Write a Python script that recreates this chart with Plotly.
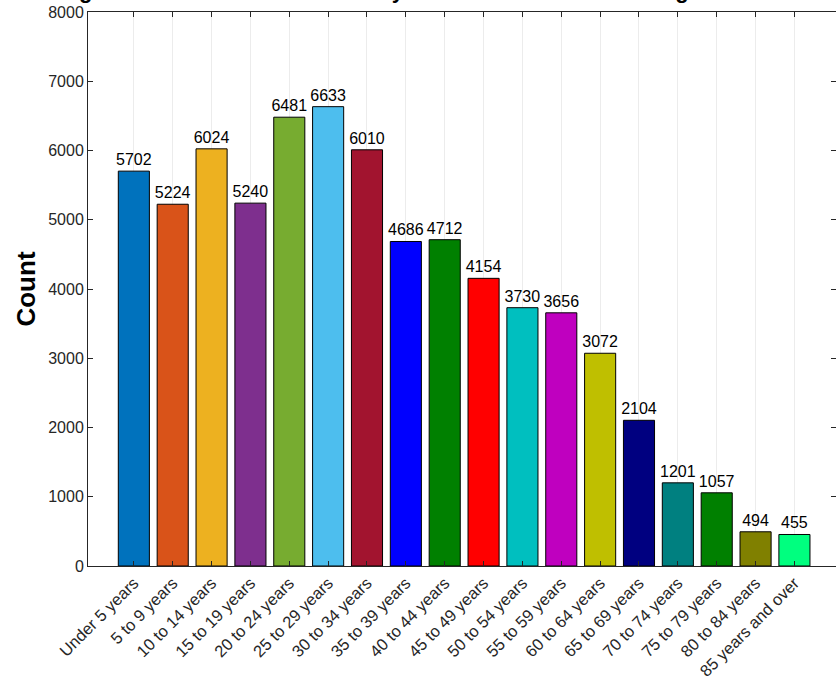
import plotly.graph_objects as go

categories = ["Under 5 years", "5 to 9 years", "10 to 14 years", "15 to 19 years",
              "20 to 24 years", "25 to 29 years", "30 to 34 years", "35 to 39 years",
              "40 to 44 years", "45 to 49 years", "50 to 54 years", "55 to 59 years",
              "60 to 64 years", "65 to 69 years", "70 to 74 years", "75 to 79 years",
              "80 to 84 years", "85 years and over"]
counts = [5702, 5224, 6024, 5240, 6481, 6633, 6010, 4686, 4712, 4154,
          3730, 3656, 3072, 2104, 1201, 1057, 494, 455]
bar_colors = ["#0072BD", "#D95319", "#EDB120", "#7E2F8E", "#77AC30", "#4DBEEE",
              "#A2142F", "#0000FF", "#008000", "#FF0000", "#00BFBF", "#BF00BF",
              "#BFBF00", "#000080", "#008080", "#008000", "#808000", "#00FF7F"]
y_ticks = [0, 1000, 2000, 3000, 4000, 5000, 6000, 7000, 8000]
title_text = "Age Distribution of Residents by the Total Count in Each Age"

W, H = 836, 683
L, R, T, B = 88, 0, 12, 117

fig = go.Figure()
fig.add_trace(go.Bar(
    x=categories, y=counts,
    marker=dict(color=bar_colors, line=dict(color="#000000", width=1)),
    width=0.8,
    text=[str(v) for v in counts],
    textposition="outside",
    constraintext="none",
    textfont=dict(family="Liberation Sans, Arial, sans-serif", size=16, color="#000000"),
    cliponaxis=False,
    showlegend=False,
))

fig.update_layout(
    width=W, height=H,
    margin=dict(l=L, r=R, t=T, b=B, pad=0, autoexpand=False),
    paper_bgcolor="white", plot_bgcolor="white",
    font=dict(family="Liberation Sans, Arial, sans-serif", color="#262626"),
    bargap=0.2,
)
fig.update_xaxes(
    type="category",
    range=[-1.18, 18.07],
    automargin=False,
    tickangle=-45,
    tickfont=dict(size=16.5, color="#262626"),
    showgrid=True, gridcolor="#ececec", gridwidth=1,
    ticks="inside", ticklen=5, tickcolor="#262626",
    showline=True, linecolor="#262626", linewidth=1, mirror="ticks",
    zeroline=False,
)
fig.update_yaxes(
    range=[0, 8000],
    automargin=False,
    tickvals=y_ticks,
    tickfont=dict(size=16, color="#262626"),
    showgrid=False,
    ticks="inside", ticklen=5, tickcolor="#262626",
    showline=True, linecolor="#262626", linewidth=1, mirror="ticks",
    zeroline=False,
    title=dict(text="<b>Count</b>", font=dict(size=26, color="#000000"), standoff=5),
)

plot_w = W - L - R
plot_h = H - T - B
fig.add_annotation(
    text="<b>" + title_text + "</b>",
    xref="paper", yref="paper",
    x=(61 - L) / plot_w, y=1 + (T + 10) / plot_h,
    xanchor="left", yanchor="middle",
    showarrow=False,
    font=dict(size=22, color="#000000", family="Liberation Sans, Arial, sans-serif"),
)

fig.write_html(
    "out.html",
    config={"displayModeBar": False},
    post_script="document.body.style.margin='0';document.body.style.overflow='hidden';",
)
